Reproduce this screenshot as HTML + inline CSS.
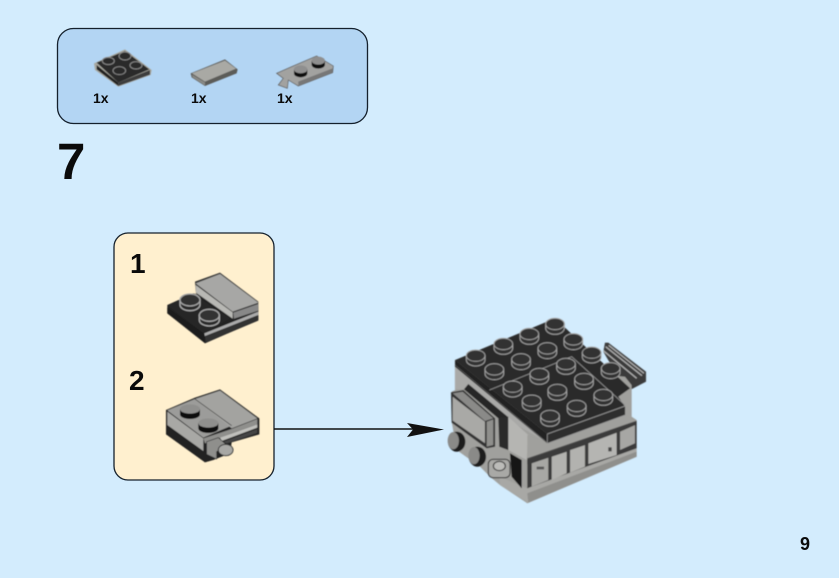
<!DOCTYPE html>
<html><head><meta charset="utf-8"><style>
html,body{margin:0;padding:0;width:839px;height:578px;overflow:hidden;background:#d3ecfd}
svg{position:absolute;left:0;top:0}
text{font-family:"Liberation Sans",sans-serif;font-weight:bold;fill:#0a0a0a}
</style></head><body>
<svg width="839" height="578" viewBox="0 0 839 578" xmlns="http://www.w3.org/2000/svg">
<defs>
<filter id="b" x="-5%" y="-5%" width="110%" height="110%"><feGaussianBlur stdDeviation="0.45"/></filter>
<g id="s"><path d="M-28,0 V13 A28,18 0 0 0 28,13 V0 Z" fill="#333" stroke="#aaa" stroke-width="3"/><ellipse cx="0" cy="0" rx="28" ry="17" fill="#303030" stroke="#a5a5a5" stroke-width="3"/></g>
<g id="s2"><path d="M-30,0 V14 A30,18 0 0 0 30,14 V0 Z" fill="#2a2a2a" stroke="#aaa" stroke-width="4"/><ellipse cx="0" cy="0" rx="30" ry="18" fill="#303030" stroke="#a5a5a5" stroke-width="4"/></g>
<g id="g2"><path d="M-20,0 V12 A20,12 0 0 0 20,12 V0 Z" fill="#111"/><ellipse cx="0" cy="0" rx="20" ry="12" fill="#8f8f8f"/></g>
</defs>

<rect x="57.500" y="28.500" width="310" height="95" rx="16" fill="#b3d5f3" stroke="#14202c" stroke-width="1.300"/>
<rect x="114" y="233" width="160" height="247" rx="14" fill="#fff0cf" stroke="#14202c" stroke-width="1.300"/>

<g filter="url(#b)">
<!-- parts list -->
<g transform="translate(50,20) scale(0.3333)">
<polygon points="132,130 225,88 305,150 302,165 205,200 135,150" fill="#a8a8a0"/>
<polygon points="140,128 225,93 298,148 205,188" fill="#2b2b2b"/>
<polygon points="140,135 205,188 205,198 140,148" fill="#222"/>
<polygon points="205,188 300,150 300,164 205,198" fill="#3c3c3c"/>
<ellipse cx="225" cy="108" rx="18" ry="12" fill="#2a2a2a" stroke="#888" stroke-width="3"/>
<ellipse cx="175" cy="123" rx="18" ry="11" fill="#2a2a2a" stroke="#888" stroke-width="3"/>
<ellipse cx="258" cy="136" rx="18" ry="11" fill="#2a2a2a" stroke="#888" stroke-width="3"/>
<ellipse cx="208" cy="152" rx="19" ry="12" fill="#2a2a2a" stroke="#888" stroke-width="3"/>
<polygon points="422,160 525,118 563,148 560,160 465,198 425,172" fill="#5b5b58"/>
<polygon points="426,160 525,122 558,146 465,185" fill="#a9a9a4"/>
<polygon points="426,164 465,187 465,196 428,172" fill="#8a8a86"/>
<polygon points="680,160 725,140 800,108 850,138 848,158 745,198 715,180 712,205 685,195 700,175" fill="#a2a2a0" stroke="#555" stroke-width="2"/>
<polygon points="745,185 848,145 848,158 745,198" fill="#777"/>
<use href="#g2" transform="translate(752,148)"/>
<use href="#g2" transform="translate(805,122)"/>
</g>

<!-- step 1 -->
<g transform="translate(110,230) scale(0.3333)">
<polygon points="172,225 250,190 445,230 445,270 285,340 172,250" fill="#222"/>
<polygon points="172,226 248,192 360,265 283,310" fill="#262626"/>
<polygon points="283,310 445,245 445,255 285,320" fill="#aaa"/>
<polygon points="285,318 445,255 445,272 287,338" fill="#303030"/>
<polygon points="172,232 283,312 285,338 172,250" fill="#1c1c1c"/>
<polygon points="255,155 330,128 445,215 445,245 370,268 258,190" fill="#333"/>
<polygon points="257,160 330,132 445,218 368,245" fill="#a7a7a5"/>
<polygon points="257,165 368,247 368,266 258,188" fill="#b8b8b4"/>
<polygon points="370,248 445,222 445,242 372,266" fill="#888"/>
<use href="#s2" transform="translate(240,210)"/>
<use href="#s2" transform="translate(298,256)"/>
</g>
<!-- step 2 -->
<g transform="translate(160,385) scale(0.3333)">
<polygon points="18,75 105,38 180,13 298,100 298,148 215,172 210,205 160,225 135,232 18,148" fill="#222"/>
<polygon points="22,76 105,42 215,122 130,158" fill="#9c9c9a"/>
<polygon points="105,42 180,17 292,100 215,130" fill="#a3a3a0"/>
<polygon points="22,80 130,160 130,198 22,120" fill="#a8a8a5"/>
<polygon points="130,160 215,132 292,102 292,118 215,145 135,175" fill="#8f8f8c"/>
<polygon points="180,158 292,118 292,128 185,168" fill="#c0c0bc"/>
<polygon points="190,170 292,132 292,144 200,176" fill="#444"/>
<polygon points="140,170 175,158 200,180 170,200 170,222 140,208" fill="#8f8f8c" stroke="#333" stroke-width="2"/>
<ellipse cx="197" cy="195" rx="22" ry="17" fill="#a8a8a5" stroke="#333" stroke-width="3"/>
<path d="M105,42 L215,122" stroke="#333" stroke-width="2"/>
<path d="M60,72 V88 A30,14 0 0 0 120,88 V72Z" fill="#111"/>
<ellipse cx="90" cy="72" rx="30" ry="14" fill="#8f8f8d"/>
<path d="M115,114 V130 A30,14 0 0 0 175,130 V114Z" fill="#111"/>
<ellipse cx="145" cy="114" rx="30" ry="14" fill="#8f8f8d"/>
</g>

<!-- main model -->
<g transform="translate(440,310) scale(0.3333)">
<!-- back tile -->
<polygon points="495,98 505,98 618,185 618,215 560,245 490,125" fill="#3a3a3a"/>
<path d="M497,110L606,197M506,106L612,190M490,122L590,205" stroke="#b5b5b5" stroke-width="4" fill="none"/>
<!-- body -->
<polygon points="45,150 45,240 35,245 35,335 50,420 120,470 150,500 180,525 262,580 590,440 590,330 575,320 575,225 555,200" fill="#a0a09d"/>
<polygon points="45,165 322,398 205,330 75,238 45,238" fill="#a9a9a7"/>
<polygon points="72,238 85,222 205,322 175,325" fill="#252525"/>
<polygon points="175,325 205,320 205,420 178,410" fill="#2b2b2b"/>
<polygon points="205,320 265,375 260,450 205,420" fill="#b5b5b2"/>
<polygon points="322,398 555,315 590,332 262,450 262,375" fill="#a0a09d"/>
<polygon points="262,445 590,332 590,345 262,462" fill="#444"/>
<polygon points="262,450 590,335 590,415 262,535" fill="#3a3a3a"/>
<polygon points="262,535 590,415 590,440 265,578 180,525 178,500" fill="#a8a8a5"/>
<polygon points="262,550 590,425 590,440 265,578" fill="#8f8f8c"/>
<polygon points="275,460 325,443 325,510 275,530" fill="#a7a7a4"/>
<polygon points="335,440 380,425 380,490 335,510" fill="#b2b2af"/>
<polygon points="390,420 435,405 435,470 390,488" fill="#b2b2af"/>
<polygon points="445,400 530,368 530,435 445,462" fill="#b5b5b2"/>
<polygon points="540,365 585,345 585,400 540,420" fill="#a7a7a4"/>
<rect x="505" y="412" width="10" height="12" fill="#444"/>
<rect x="290" y="470" width="22" height="8" fill="#555"/>
<polygon points="210,430 245,450 245,535 215,500" fill="#161616"/>
<!-- front tile -->
<polygon points="33,247 70,240 165,325 165,410 140,415 35,338" fill="#333"/>
<polygon points="38,260 135,335 135,400 38,332" fill="#a9a9a6"/>
<polygon points="38,250 68,245 160,325 135,333" fill="#8a8a88"/>
<polygon points="140,335 160,328 160,405 140,410" fill="#8f8f8c"/>
<!-- knobs -->
<ellipse cx="50" cy="395" rx="26" ry="30" fill="#1c1c1c"/>
<ellipse cx="40" cy="392" rx="17" ry="26" fill="#8a8a88"/>
<ellipse cx="112" cy="440" rx="26" ry="30" fill="#1c1c1c"/>
<ellipse cx="102" cy="437" rx="17" ry="26" fill="#8a8a88"/>
<!-- clip -->
<rect x="145" y="448" width="65" height="55" rx="14" fill="#a9a9a6" stroke="#333" stroke-width="3"/>
<ellipse cx="178" cy="468" rx="18" ry="14" fill="#bcbcb9" stroke="#333" stroke-width="3"/>
<!-- top plate -->
<polygon points="45,150 322,372 322,400 45,170" fill="#222"/>
<polygon points="322,372 555,290 555,315 322,400" fill="#2e2e2e"/>
<polygon points="45,150 345,25 570,235 535,260 555,290 322,372" fill="#2b2b2b"/>
<path d="M322,372 V400 M322,372 L555,288 M148,240 L395,140 L555,285" stroke="#9a9a9a" stroke-width="2.500" fill="none"/>
<path d="M45,165 L322,398" stroke="#888" stroke-width="1.500" fill="none"/>
<path d="M322,400 L555,315" stroke="#999" stroke-width="2" fill="none"/>
<use href="#s" transform="translate(345,42)"/>
<use href="#s" transform="translate(268,72)"/>
<use href="#s" transform="translate(400,88)"/>
<use href="#s" transform="translate(190,102)"/>
<use href="#s" transform="translate(322,115)"/>
<use href="#s" transform="translate(455,128)"/>
<use href="#s" transform="translate(107,137)"/>
<use href="#s" transform="translate(243,148)"/>
<use href="#s" transform="translate(378,162)"/>
<use href="#s" transform="translate(512,175)"/>
<use href="#s" transform="translate(163,178)"/>
<use href="#s" transform="translate(298,192)"/>
<use href="#s" transform="translate(432,207)"/>
<use href="#s" transform="translate(218,230)"/>
<use href="#s" transform="translate(352,240)"/>
<use href="#s" transform="translate(490,255)"/>
<use href="#s" transform="translate(275,272)"/>
<use href="#s" transform="translate(410,288)"/>
<use href="#s" transform="translate(330,318)"/>
</g>
</g>
<line x1="274" y1="429" x2="415" y2="429" stroke="#111" stroke-width="1.500"/>
<polygon points="407,423 444,429.500 407,437 413,429.500" fill="#111"/>

<text x="93" y="103" font-size="14">1x</text>
<text x="191" y="103" font-size="14">1x</text>
<text x="277" y="103" font-size="14">1x</text>
<text x="57" y="179" font-size="51">7</text>
<text x="130" y="273" font-size="28">1</text>
<text x="129" y="390" font-size="28">2</text>
<text x="800" y="550" font-size="18">9</text>
</svg>
</body></html>
